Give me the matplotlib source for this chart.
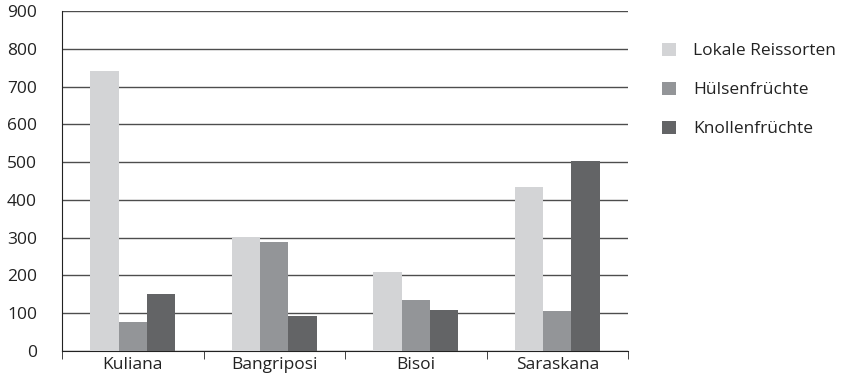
import matplotlib.pyplot as plt
import numpy as np

# Daten
orte = ['Kuliana', 'Bangriposi', 'Bisoi', 'Saraskana']
reis = [740, 302, 208, 434]
huelsen = [76, 288, 134, 105]
knollen = [150, 93, 108, 503]
serien = ['Lokale Reissorten', 'Hülsenfrüchte', 'Knollenfrüchte']
farben = ['#d3d4d6', '#939598', '#636466']

plt.rcParams['font.family'] = ['Open Sans', 'DejaVu Sans']

fig = plt.figure(figsize=(8.46, 3.84), dpi=100)
ax = fig.add_axes([62/846, 1-351/384, (628-62)/846, 340/384])

x = np.arange(len(orte))
w = 0.2
for i, (werte, name) in enumerate(zip([reis, huelsen, knollen], serien)):
    ax.bar(x + (i-1)*w, werte, width=w, color=farben[i], label=name, zorder=3)

ax.set_xlim(-0.5, len(orte)-0.5)
ax.set_ylim(0, 900)
ax.set_yticks(range(0, 1000, 100))
ax.yaxis.grid(True, color='#4d4d4d', linewidth=1)
ax.set_axisbelow(True)

for s in ['top', 'right']:
    ax.spines[s].set_visible(False)
ax.spines['left'].set_color('#222222')
ax.spines['bottom'].set_color('#222222')

ax.set_xticks(x)
ax.set_xticklabels(orte)
ax.set_xticks(np.arange(-0.5, len(orte), 1), minor=True)
ax.tick_params(axis='x', which='major', length=0, pad=4, labelsize=12.5, colors='#222222')
ax.tick_params(axis='x', which='minor', length=6, direction='out', color='#222222')
ax.tick_params(axis='y', length=0, pad=18, labelsize=12.5, colors='#222222')

fig.legend(loc='upper left', bbox_to_anchor=(646/846, 1-27/384), frameon=False,
           fontsize=12.5, labelspacing=1.28, handlelength=0.82, handleheight=0.82,
           handletextpad=1.0, labelcolor='#222222')

fig.savefig('out.png', dpi=100)
